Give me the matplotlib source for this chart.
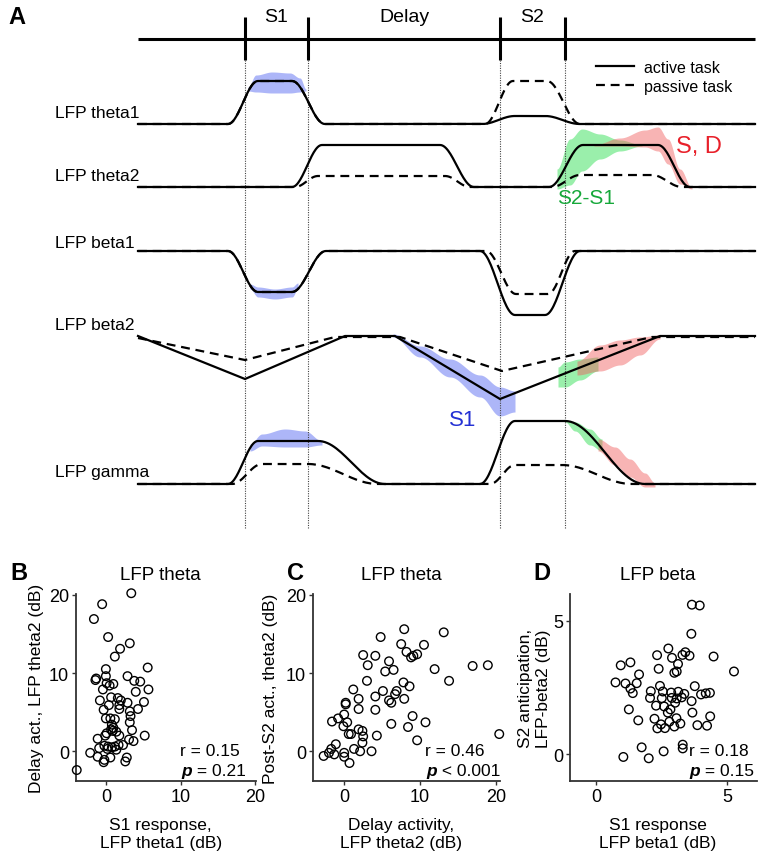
import numpy as np
import matplotlib
matplotlib.use('Agg')
import matplotlib.pyplot as plt
from matplotlib.lines import Line2D

plt.rcParams['font.family'] = ['Liberation Sans', 'DejaVu Sans']

# ---- panel A: schematic time courses (x = time along the task line, y = screen px, down is lower)
epoch_edges = [245, 308, 500, 565]
epoch_names = ['S1', 'Delay', 'S2']
epoch_label_x = [276, 404, 532]

trace_names = ['LFP theta1', 'LFP theta2', 'LFP beta1', 'LFP beta2', 'LFP gamma']
trace_label_y = [113, 176, 243, 325, 473]

theta1_act_x = [138, 228, 258, 292, 325, 482, 515, 545, 580, 755]
theta1_act_y = [125, 125, 82, 82, 125, 125, 117, 117, 125, 125]
theta1_pas_x = [138, 228, 258, 292, 325, 485, 513, 547, 580, 755]
theta1_pas_y = [125, 125, 82, 82, 125, 125, 82, 82, 125, 125]

theta2_act_x = [138, 292, 322, 440, 474, 549, 583, 658, 690, 755]
theta2_act_y = [188, 188, 146, 146, 188, 188, 146, 146, 188, 188]
theta2_pas_x = [138, 295, 318, 445, 470, 552, 580, 652, 682, 755]
theta2_pas_y = [188, 188, 177, 177, 188, 188, 176, 176, 188, 188]

beta1_act_x = [138, 228, 258, 292, 326, 480, 515, 545, 580, 755]
beta1_act_y = [252, 252, 293, 293, 252, 252, 316, 316, 252, 252]
beta1_pas_x = [138, 228, 258, 292, 326, 486, 516, 548, 575, 755]
beta1_pas_y = [252, 252, 293, 293, 252, 252, 295, 295, 252, 252]

beta2_act_x = [138, 245, 345, 395, 500, 660, 755]
beta2_act_y = [337, 380, 337, 337, 400, 337, 337]
beta2_pas_x = [138, 245, 335, 400, 502, 652, 755]
beta2_pas_y = [339, 361, 338, 338, 372, 338, 338]

gamma_act_x = [138, 228, 258, 318, 385, 480, 515, 565, 645, 755]
gamma_act_y = [485, 485, 442, 442, 485, 485, 422, 422, 485, 485]
gamma_pas_x = [138, 232, 262, 308, 378, 490, 515, 562, 632, 755]
gamma_pas_y = [485, 485, 465, 465, 485, 485, 466, 466, 485, 485]

# shaded significance bands: x, lower edge, upper edge
s1_theta1_x = [248, 256, 272, 290, 300, 306]
s1_theta1_hi = [88, 76, 73, 74, 79, 90]
s1_theta1_lo = [92, 93, 94, 94, 93, 92]
s1_beta1_x = [250, 258, 275, 292, 298]
s1_beta1_hi = [285, 288, 290, 288, 284]
s1_beta1_lo = [290, 298, 300, 298, 290]
s1_beta2_x = [393, 420, 450, 480, 500, 515]
s1_beta2_hi = [335, 347, 360, 376, 388, 392]
s1_beta2_lo = [338, 358, 378, 398, 417, 413]
s1_gamma_x = [250, 262, 285, 305, 322]
s1_gamma_hi = [445, 435, 430, 432, 442]
s1_gamma_lo = [452, 447, 448, 448, 446]

s2s1_theta2_x = [557, 570, 582, 600, 620, 642]
s2s1_theta2_hi = [170, 140, 130, 135, 141, 146]
s2s1_theta2_lo = [190, 186, 172, 160, 152, 147]
s2s1_beta2_x = [558, 565, 580, 598]
s2s1_beta2_hi = [368, 363, 360, 358]
s2s1_beta2_lo = [388, 388, 381, 372]
s2s1_gamma_x = [565, 575, 590, 602]
s2s1_gamma_hi = [421, 423, 430, 440]
s2s1_gamma_lo = [423, 432, 446, 452]

sd_theta2_x = [594, 620, 645, 658, 668, 680, 692]
sd_theta2_hi = [146, 139, 131, 128, 140, 170, 189]
sd_theta2_lo = [147, 147, 148, 152, 165, 185, 190]
sd_beta2_x = [577, 600, 620, 640, 660]
sd_beta2_hi = [362, 346, 341, 338, 336]
sd_beta2_lo = [376, 372, 366, 356, 340]
sd_gamma_x = [598, 615, 630, 645, 655]
sd_gamma_hi = [440, 448, 460, 474, 484]
sd_gamma_lo = [452, 466, 478, 488, 488]

# ---- panels B-D: scatter data
b_x = [3.4, -0.5, -1.6, 0.3, 3.2, 1.9, 1.2, 5.6, 0.0, -1.3, -1.4, 0.0, 2.9, 3.8, 4.6, 0.1,
       1.0, 0.5, 5.7, -0.4, 4.0, -0.8, 0.7, 1.6, 2.0, 2.9, 5.1, 0.4, 1.8, -0.3, 1.8, 3.2,
       4.3, 3.3, 0.0, 0.6, 1.2, 3.2, 0.8, 1.0, 0.7, 3.5, 0.1, 1.4, 1.8, -0.1, 5.2, -1.1,
       3.7, 3.1, -0.2, 0.3, 0.8, 1.2, 1.7, 2.3, -0.9, -2.1, -1.1, -0.3, 0.6, 1.4, 2.8, 2.6,
       -3.9, -0.2, 0.2, 0.9]
b_y = [20.2, 18.8, 16.9, 14.6, 13.8, 13.1, 12.1, 10.7, 10.5, 9.3, 9.1, 9.6, 9.6, 9.0, 8.9, 8.7,
       8.6, 8.4, 7.9, 7.9, 7.6, 6.5, 6.9, 6.8, 6.5, 6.2, 6.3, 5.9, 5.9, 5.3, 5.4, 5.1,
       5.4, 4.5, 4.2, 4.2, 4.1, 3.7, 3.4, 3.0, 2.8, 2.7, 2.3, 2.5, 2.0, 2.0, 2.0, 1.6,
       1.3, 1.5, 0.7, 0.6, 0.5, 0.6, 0.8, 0.8, 0.4, -0.2, -0.7, -1.4, -0.8, 0.2, -0.8, -1.3,
       -2.4, -1.1, 0.3, 2.6]

c_x = [7.9, 13.1, 4.8, 7.5, 10.5, 8.2, 2.5, 4.1, 9.6, 8.8, 9.1, 5.9, 3.1, 16.9, 18.9, 11.9,
       5.4, 6.5, 13.8, 3.0, 7.8, 8.6, 1.2, 5.1, 6.9, 6.7, 4.1, 1.9, 7.9, 5.9, 6.2, 0.2,
       0.2, 1.9, 4.1, 0.0, -0.8, -1.6, 0.4, 9.0, 6.2, 10.7, 8.4, -0.1, 0.6, 0.9, 1.9, 2.4,
       2.5, 4.3, 2.4, -1.1, 9.6, 20.4, 1.3, 2.1, 3.6, -1.7, -2.7, -1.3, 0.0, 0.0, 0.7, -2.0]
c_y = [15.6, 15.2, 14.6, 13.7, 13.6, 12.7, 12.3, 12.2, 12.4, 12.0, 12.2, 11.5, 11.0, 10.9, 11.0, 10.5,
       10.2, 10.4, 9.0, 9.0, 8.8, 8.3, 7.9, 7.7, 7.7, 7.3, 7.0, 6.7, 6.7, 6.5, 6.2, 6.2,
       6.0, 5.4, 5.3, 4.7, 4.2, 3.8, 3.7, 4.5, 3.5, 3.7, 3.1, 3.2, 2.2, 2.2, 2.8, 2.6,
       1.9, 2.0, 1.1, 0.9, 1.4, 2.2, 0.3, 0.0, 0.0, 0.3, -0.6, -0.4, -0.2, -0.7, -1.5, -0.2]

d_x = [3.66, 3.96, 3.64, 2.76, 2.33, 3.41, 3.57, 4.49, 2.90, 3.30, 1.31, 0.94, 3.13, 2.39, 5.27, 2.99,
       3.08, 1.64, 0.74, 1.12, 1.55, 1.31, 1.40, 2.44, 3.77, 2.09, 2.55, 2.87, 3.14, 3.37, 4.01, 4.19,
       4.35, 2.06, 2.51, 2.89, 3.08, 3.27, 3.65, 3.02, 2.29, 2.60, 1.25, 2.84, 3.68, 4.36, 2.74, 3.07,
       2.23, 1.61, 2.80, 2.48, 3.22, 3.87, 4.24, 2.34, 2.63, 2.99, 3.31, 3.31, 1.74, 2.58, 1.04, 2.01]
d_y = [5.60, 5.57, 4.51, 3.96, 3.71, 3.82, 3.69, 3.66, 3.61, 3.72, 3.44, 3.33, 3.38, 3.20, 3.10, 3.05,
       3.10, 2.99, 2.69, 2.65, 2.66, 2.46, 2.29, 2.56, 2.55, 2.36, 2.35, 2.31, 2.34, 2.26, 2.24, 2.28,
       2.30, 2.11, 2.10, 2.11, 2.09, 2.13, 1.99, 1.93, 1.82, 1.79, 1.68, 1.68, 1.56, 1.42, 1.56, 1.35,
       1.33, 1.27, 1.22, 1.12, 1.15, 1.09, 1.07, 0.97, 0.98, 1.04, 0.36, 0.22, 0.26, 0.11, -0.10, -0.15]


def eased(xs, ys, n=30):
    # cosine easing between waypoints -> smooth schematic curve
    fx, fy = [], []
    t = np.linspace(0, 1, n)
    w = (1 - np.cos(np.pi * t)) / 2
    for i in range(len(xs) - 1):
        fx.append(xs[i] + (xs[i + 1] - xs[i]) * t)
        fy.append(ys[i] + (ys[i + 1] - ys[i]) * w)
    return np.concatenate(fx), np.concatenate(fy)


W, H = 760, 853
fig = plt.figure(figsize=(W / 100, H / 100), dpi=100)

ax = fig.add_axes([0, 0, 1, 1])
ax.set_xlim(0, W)
ax.set_ylim(H, 0)
ax.axis('off')

# task timeline
ax.hlines(40, 138, 755, color='black', lw=2.2)
ax.vlines(epoch_edges, 18, 61, color='black', lw=2.2)
ax.vlines(epoch_edges, 61, 530, color='#444444', lw=0.8, linestyles=(0, (1, 1.2)))
for name, lx in zip(epoch_names, epoch_label_x):
    ax.text(lx, 17, name, ha='center', va='center', fontsize=14)
ax.text(8, 17, 'A', fontsize=17, fontweight='bold', va='center')

for name, ly in zip(trace_names, trace_label_y):
    ax.text(55, ly, name, fontsize=12.5, va='center')

blue, green, red = '#4b5ff0', '#1fdc45', '#f05a5a'
bands = [
    (s1_theta1_x, s1_theta1_lo, s1_theta1_hi, blue),
    (s1_beta1_x, s1_beta1_lo, s1_beta1_hi, blue),
    (s1_beta2_x, s1_beta2_lo, s1_beta2_hi, blue),
    (s1_gamma_x, s1_gamma_lo, s1_gamma_hi, blue),
    (s2s1_theta2_x, s2s1_theta2_lo, s2s1_theta2_hi, green),
    (s2s1_beta2_x, s2s1_beta2_lo, s2s1_beta2_hi, green),
    (s2s1_gamma_x, s2s1_gamma_lo, s2s1_gamma_hi, green),
    (sd_theta2_x, sd_theta2_lo, sd_theta2_hi, red),
    (sd_beta2_x, sd_beta2_lo, sd_beta2_hi, red),
    (sd_gamma_x, sd_gamma_lo, sd_gamma_hi, red),
]
for bx, lo, hi, col in bands:
    fx, flo = eased(bx, lo)
    _, fhi = eased(bx, hi)
    ax.fill_between(fx, flo, fhi, color=col, alpha=0.45, lw=0, zorder=1)

dash = (0, (4, 2.6))
passive = [(theta1_pas_x, theta1_pas_y), (theta2_pas_x, theta2_pas_y),
           (beta1_pas_x, beta1_pas_y), (gamma_pas_x, gamma_pas_y)]
for px, py in passive:
    fx, fy = eased(px, py)
    ax.plot(fx, fy, color='black', lw=1.6, ls=dash, zorder=2)
ax.plot(beta2_pas_x, beta2_pas_y, color='black', lw=1.6, ls=dash, zorder=2)

active = [(theta1_act_x, theta1_act_y), (theta2_act_x, theta2_act_y),
          (beta1_act_x, beta1_act_y), (gamma_act_x, gamma_act_y)]
for px, py in active:
    fx, fy = eased(px, py)
    ax.plot(fx, fy, color='black', lw=1.6, zorder=3)
ax.plot(beta2_act_x, beta2_act_y, color='black', lw=1.6, zorder=3, solid_joinstyle='round')

ax.text(676, 147, 'S, D', color='#e8202a', fontsize=17, va='center')
ax.text(557, 198, 'S2-S1', color='#16a83a', fontsize=15, va='center')
ax.text(449, 421, 'S1', color='#2431d4', fontsize=16, va='center')

handles = [Line2D([], [], color='black', lw=1.6), Line2D([], [], color='black', lw=1.6, ls=dash)]
ax.legend(handles, ['active task', 'passive task'], loc='upper left',
          bbox_to_anchor=(596 / W, 1 - 61 / H), frameon=False, fontsize=11.5,
          handlelength=2.4, handletextpad=0.6, labelspacing=0.25, borderpad=0, borderaxespad=0)


# ---- scatter panels
def px_axes(left, right, top, bottom):
    return fig.add_axes([left / W, 1 - bottom / H, (right - left) / W, (bottom - top) / H])


def scatter_panel(a, x, y, title, xlabel, ylabel, r_txt, p_txt, txt_x, ylab_x):
    a.scatter(x, y, s=38, facecolors='none', edgecolors='black', linewidths=1.0, zorder=3,
              clip_on=False)
    for s in ['top', 'right']:
        a.spines[s].set_visible(False)
    for s in ['left', 'bottom']:
        a.spines[s].set_color('#333333')
        a.spines[s].set_linewidth(1.3)
    a.tick_params(length=3, width=1, color='#333333', labelsize=13, pad=2)
    a.text(0.47, 1.105, title, transform=a.transAxes, ha='center', va='center', fontsize=13.5)
    a.set_xlabel(xlabel, fontsize=12.5, linespacing=1.25)
    a.xaxis.set_label_coords(0.47, -0.19)
    a.xaxis.label.set_va('top')
    a.set_ylabel(ylabel, fontsize=12.5, linespacing=1.25)
    a.yaxis.set_label_coords(ylab_x, 0.5)
    a.text(txt_x, 0.165, r_txt, transform=a.transAxes, fontsize=12.5, va='center')
    pt = a.text(txt_x + 0.005, 0.055, 'p', transform=a.transAxes, fontsize=12.5, va='center',
                fontweight='bold', fontstyle='italic')
    a.annotate(p_txt, xy=(1, 0), xycoords=pt, va='bottom', fontsize=12.5)


ax_b = px_axes(76, 256, 595, 782)
scatter_panel(ax_b, b_x, b_y, 'LFP theta', 'S1 response,\nLFP theta1 (dB)',
              'Delay act., LFP theta2 (dB)', 'r = 0.15', ' = 0.21', 0.58, -0.18)
ax_b.set_xlim(-4, 20.1)
ax_b.set_ylim(-3.8, 20.1)
ax_b.set_xticks([0, 10, 20])
ax_b.set_yticks([0, 10, 20])

ax_c = px_axes(313, 500, 595, 782)
scatter_panel(ax_c, c_x, c_y, 'LFP theta', 'Delay activity,\nLFP theta2 (dB)',
              'Post-S2 act., theta2 (dB)', 'r = 0.46', ' < 0.001', 0.6, -0.185)
ax_c.set_xlim(-4.1, 20.5)
ax_c.set_ylim(-3.8, 20.1)
ax_c.set_xticks([0, 10, 20])
ax_c.set_yticks([0, 10, 20])

ax_d = px_axes(570, 757, 595, 782)
scatter_panel(ax_d, d_x, d_y, 'LFP beta', 'S1 response\nLFP beta1 (dB)',
              'S2 anticipation,\nLFP-beta2 (dB)', 'r = 0.18', ' = 0.15', 0.635, -0.10)
ax_d.set_xlim(-1, 6.15)
ax_d.set_ylim(-1, 6)
ax_d.set_xticks([0, 5])
ax_d.set_yticks([0, 5])

for letter, lx in zip(['B', 'C', 'D'], [10, 287, 533]):
    fig.text(lx / W, 1 - 573 / H, letter, fontsize=17, fontweight='bold', va='center')

fig.savefig('out.png', dpi=100)
